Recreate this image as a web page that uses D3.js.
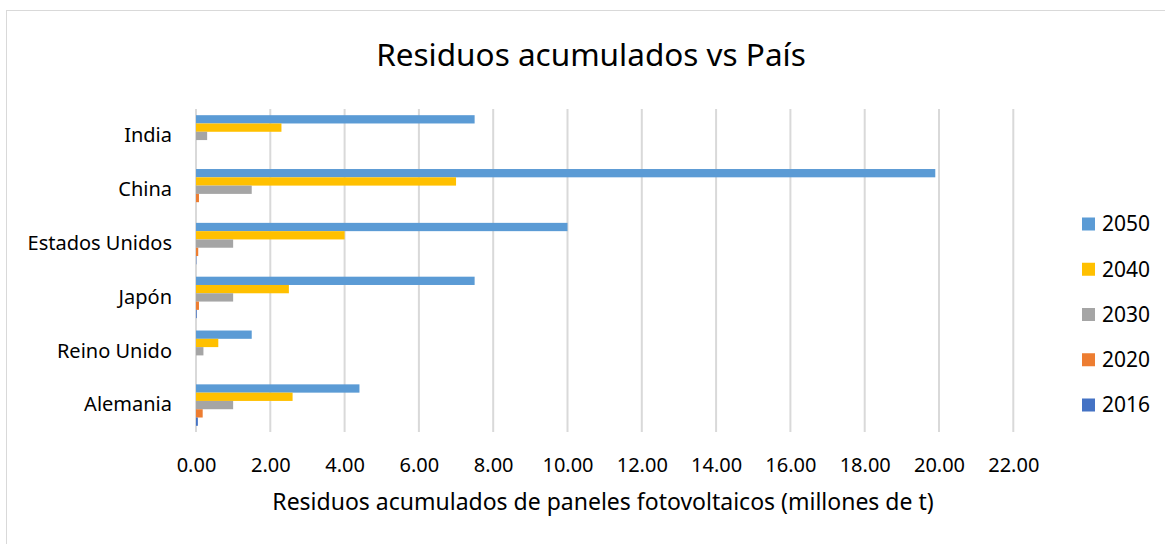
<!DOCTYPE html>
<html><head><meta charset="utf-8">
<script src="https://cdn.jsdelivr.net/npm/d3@7"></script>
<style>body{margin:0;background:#fff;} text{font-family:"Noto Sans",sans-serif;fill:#000;}</style>
</head><body><svg id="c" width="1165" height="544"></svg>
<script>
const categories = ["India","China","Estados Unidos","Japón","Reino Unido","Alemania"];
const seriesNames = ["2050","2040","2030","2020","2016"];
const v2050 = [7.5, 19.9, 10.0, 7.5, 1.5, 4.4];
const v2040 = [2.3, 7.0, 4.0, 2.5, 0.6, 2.6];
const v2030 = [0.3, 1.5, 1.0, 1.0, 0.2, 1.0];
const v2020 = [0.0, 0.08, 0.06, 0.08, 0.0, 0.18];
const v2016 = [0.0, 0.0, 0.01, 0.02, 0.0, 0.05];
const tickValues = [0,2,4,6,8,10,12,14,16,18,20,22];
const colors = ["#5B9BD5","#FFC000","#A5A5A5","#ED7D31","#4472C4"];
const seriesValues = [v2050, v2040, v2030, v2020, v2016];

const svg = d3.select("#c");
svg.append("rect").attr("x",6.5).attr("y",10.5).attr("width",1170).attr("height",540)
  .attr("fill","#fff").attr("stroke","#d9d9d9").attr("stroke-width",1);

const x = d3.scaleLinear().domain([0,22]).range([196,1013.3]);
const y0 = d3.scaleBand().domain(categories).range([109,432]).paddingInner(0.23).paddingOuter(0.115);
const y1 = d3.scaleBand().domain(seriesNames).range([0,y0.bandwidth()]);

svg.append("g").selectAll("line").data(tickValues).join("line")
  .attr("x1",d=>x(d)).attr("x2",d=>x(d)).attr("y1",109).attr("y2",432)
  .attr("stroke","#d9d9d9").attr("stroke-width",2);

const g = svg.append("g");
categories.forEach((c,i)=>{
  seriesNames.forEach((s,j)=>{
    g.append("rect").attr("x",x(0)).attr("y",y0(c)+y1(s))
      .attr("width",x(seriesValues[j][i])-x(0)).attr("height",y1.bandwidth())
      .attr("fill",colors[j]);
  });
});

const xa = svg.append("g").attr("transform","translate(0,432)")
  .call(d3.axisBottom(x).tickValues(tickValues).tickFormat(d3.format(".2f")).tickSize(0).tickPadding(25.5));
xa.select(".domain").remove();
xa.selectAll("text").attr("font-size",20).attr("font-family","Noto Sans").attr("fill","#000");

const ya = svg.append("g").attr("transform","translate(196,0)")
  .call(d3.axisLeft(y0).tickSize(0).tickPadding(24));
ya.select(".domain").remove();
ya.selectAll("text").attr("font-size",20).attr("font-family","Noto Sans").attr("fill","#000");

svg.append("text").attr("x",591).attr("y",65.5).attr("text-anchor","middle").attr("font-size",31.5).text("Residuos acumulados vs País");
svg.append("text").attr("x",603).attr("y",510).attr("text-anchor","middle").attr("font-size",23).text("Residuos acumulados de paneles fotovoltaicos (millones de t)");

const legY = d3.scalePoint().domain(seriesNames).range([224,405]);
const lg = svg.append("g");
seriesNames.forEach((s,j)=>{
  lg.append("rect").attr("x",1082).attr("y",legY(s)-6.5).attr("width",13).attr("height",13).attr("fill",colors[j]);
  lg.append("text").attr("x",1102).attr("y",legY(s)).attr("dy","0.35em").attr("font-size",21).text(s);
});
</script></body></html>
